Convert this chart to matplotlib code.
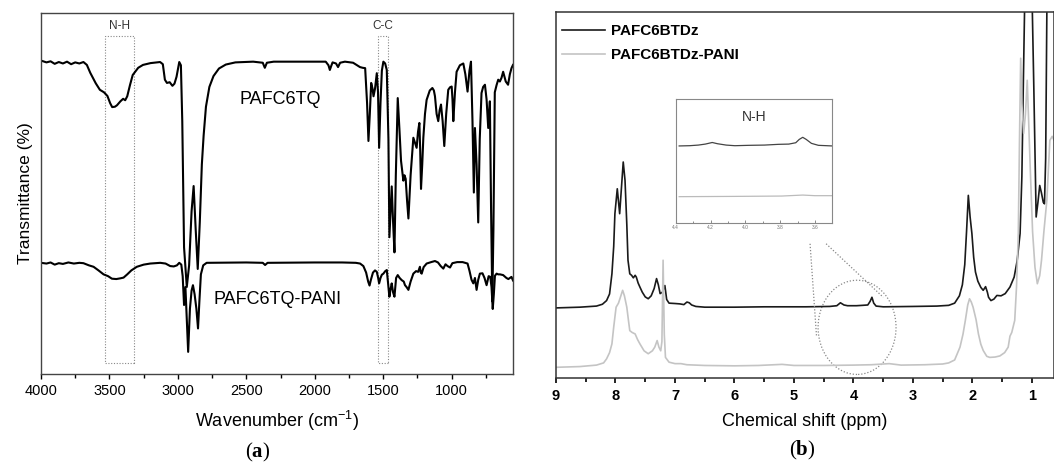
import matplotlib
matplotlib.use("Agg")
import matplotlib.pyplot as plt
from matplotlib.patches import Rectangle, Ellipse
from matplotlib.ticker import MultipleLocator

plt.rcParams['font.family'] = ['Liberation Sans', 'DejaVu Sans']
plt.rcParams['mathtext.fontset'] = 'custom'
plt.rcParams['mathtext.rm'] = 'Liberation Sans'
plt.rcParams['mathtext.it'] = 'Liberation Sans:italic'
plt.rcParams['mathtext.bf'] = 'Liberation Serif:bold'

# ---- (a) FTIR, wavenumber (cm-1) vs transmittance (arb.) ----
tq_wn = [4000, 3960, 3930, 3900, 3870, 3840, 3810, 3780, 3750, 3720, 3690, 3665, 3640, 3600,
         3570, 3540, 3515, 3495, 3480, 3460, 3445, 3420, 3400, 3385, 3370, 3350, 3330, 3290,
         3255, 3200, 3130, 3110, 3095, 3080, 3060, 3040, 3025, 3010, 2990, 2978, 2968, 2955,
         2935, 2918, 2900, 2885, 2870, 2855, 2840, 2825, 2812, 2795, 2770, 2740, 2700, 2650,
         2580, 2450, 2380, 2365, 2350, 2300, 2100, 1920, 1900, 1890, 1880, 1870, 1845, 1830,
         1815, 1780, 1720, 1690, 1670, 1650, 1632, 1618, 1608, 1598, 1588, 1578, 1571, 1560,
         1547, 1538, 1530, 1520, 1510, 1499, 1486, 1474, 1462, 1455, 1446, 1438, 1428, 1418,
         1408, 1394, 1382, 1370, 1353, 1345, 1336, 1326, 1316, 1300, 1280, 1268, 1256, 1246,
         1236, 1230, 1224, 1215, 1207, 1195, 1183, 1160, 1141, 1130, 1122, 1110, 1098, 1088,
         1078, 1066, 1054, 1040, 1025, 1012, 1000, 994, 988, 976, 964, 940, 915, 900,
         884, 870, 859, 848, 838, 834, 830, 818, 806, 795, 782, 770, 757, 745,
         733, 727, 721, 712, 703, 695, 685, 672, 660, 648, 636, 624, 605, 588,
         575, 563, 552]
tq_T = [86.8, 86.3, 86.6, 85.9, 86.4, 86.0, 86.5, 85.8, 86.3, 86.0, 86.4, 85.6, 83.4, 80.5,
        78.7, 78.0, 77.0, 75.0, 73.9, 74.0, 74.4, 75.5, 76.2, 75.8, 76.9, 80.0, 82.8, 84.8,
        85.6, 86.1, 86.4, 85.8, 81.5, 80.6, 80.8, 79.8, 80.4, 82.3, 86.4, 85.5, 70.0, 35.0,
        24.0, 30.0, 45.0, 52.0, 40.0, 29.0, 42.0, 58.0, 66.0, 74.0, 79.5, 82.5, 84.6, 85.7,
        86.3, 86.5, 86.2, 84.8, 86.2, 86.5, 86.5, 86.5, 85.5, 84.2, 85.3, 86.3, 86.0, 85.0,
        86.2, 86.5, 86.2, 85.5, 85.0, 84.8, 84.7, 75.0, 64.5, 72.0, 80.6, 79.0, 76.9, 79.0,
        83.3, 78.0, 62.6, 75.0, 84.0, 86.5, 86.0, 84.2, 65.0, 37.8, 45.0, 51.9, 42.0, 33.6,
        55.0, 76.4, 68.0, 59.0, 53.5, 55.0, 54.0, 48.0, 43.0, 55.0, 65.4, 64.0, 62.6, 67.0,
        69.5, 62.0, 51.2, 58.0, 65.4, 72.0, 75.9, 78.5, 79.2, 78.5, 76.9, 72.0, 70.0, 73.0,
        74.6, 70.0, 63.1, 72.0, 78.7, 79.4, 79.6, 76.0, 70.0, 78.0, 83.7, 85.5, 86.0, 83.0,
        78.2, 84.0, 86.5, 70.0, 50.2, 60.0, 68.1, 58.0, 41.9, 65.0, 77.8, 79.5, 80.1, 76.0,
        68.1, 72.0, 75.5, 45.0, 20.0, 40.0, 78.0, 80.0, 81.5, 81.0, 82.0, 83.7, 81.0, 80.1,
        83.0, 84.7, 85.6]

pani_wn = [4000, 3960, 3930, 3900, 3870, 3840, 3800, 3760, 3720, 3690, 3650, 3616, 3580, 3543,
           3510, 3482, 3450, 3420, 3397, 3370, 3340, 3300, 3250, 3202, 3129, 3090, 3056, 3030,
           3007, 2990, 2975, 2965, 2955, 2945, 2935, 2925, 2912, 2900, 2890, 2878, 2865, 2853,
           2843, 2832, 2815, 2790, 2500, 2380, 2363, 2345, 2000, 1800, 1700, 1669, 1645, 1625,
           1610, 1600, 1590, 1575, 1560, 1547, 1537, 1530, 1520, 1510, 1499, 1485, 1474, 1463,
           1455, 1446, 1438, 1428, 1418, 1406, 1394, 1380, 1365, 1350, 1341, 1330, 1316, 1300,
           1280, 1260, 1245, 1232, 1226, 1219, 1205, 1183, 1150, 1122, 1100, 1080, 1061, 1045,
           1030, 1012, 995, 960, 920, 884, 870, 855, 842, 830, 818, 806, 794, 775,
           760, 745, 730, 718, 709, 700, 692, 684, 672, 660, 647, 624, 600, 586,
           563, 552]
pani_T = [30.7, 30.5, 30.8, 30.2, 30.6, 30.4, 30.8, 30.5, 30.7, 30.6, 30.0, 29.6, 28.6, 27.5,
          27.0, 26.3, 26.2, 26.4, 26.6, 27.5, 28.6, 29.6, 30.2, 30.5, 30.7, 30.5, 29.8, 29.7,
          30.0, 30.7, 30.2, 27.0, 19.0, 24.0, 15.0, 6.0, 18.0, 23.0, 24.5, 22.0, 18.0, 12.5,
          20.0, 27.5, 30.0, 30.7, 30.8, 30.7, 30.1, 30.7, 30.8, 30.8, 30.7, 30.5, 29.8, 28.0,
          25.5, 24.4, 26.0, 28.0, 28.6, 28.2, 26.5, 25.0, 26.5, 27.4, 27.7, 28.4, 28.7, 24.5,
          21.3, 23.5, 25.0, 22.5, 21.3, 26.5, 27.3, 26.5, 25.9, 25.5, 24.5, 24.0, 23.2, 25.5,
          27.7, 28.4, 28.2, 29.6, 28.0, 27.7, 29.5, 30.5, 30.9, 31.2, 30.8, 29.8, 29.1, 30.3,
          29.8, 29.4, 30.6, 30.9, 30.9, 30.5, 28.5, 26.0, 25.0, 26.5, 23.2, 26.0, 27.7, 27.8,
          26.5, 24.5, 27.0, 26.8, 24.0, 17.9, 22.0, 27.1, 27.7, 27.5, 27.5, 27.3, 26.5, 26.2,
          26.8, 25.8]

nh_band = (3530, 3324)
cc_band = (1535, 1467)

# ---- (b) 1H NMR, chemical shift (ppm) ----
btdz_ppm = [9.00, 8.60, 8.32, 8.22, 8.15, 8.10, 8.06, 8.03, 8.01, 7.97, 7.93, 7.90, 7.87, 7.84,
            7.81, 7.79, 7.76, 7.73, 7.70, 7.67, 7.65, 7.62, 7.59, 7.55, 7.50, 7.45, 7.40, 7.35,
            7.31, 7.28, 7.25, 7.21, 7.17, 7.14, 7.10, 7.00, 6.92, 6.85, 6.80, 6.76, 6.72, 6.65,
            6.50, 6.00, 5.50, 5.20, 4.80, 4.40, 4.28, 4.22, 4.16, 4.10, 3.95, 3.85, 3.76, 3.72,
            3.69, 3.66, 3.62, 3.50, 3.00, 2.60, 2.40, 2.30, 2.22, 2.17, 2.13, 2.10, 2.07, 2.04,
            2.01, 1.98, 1.95, 1.91, 1.86, 1.82, 1.78, 1.75, 1.73, 1.69, 1.64, 1.59, 1.52, 1.45,
            1.37, 1.30, 1.25, 1.20, 1.17, 1.15, 1.12, 1.06, 1.00, 0.97, 0.95, 0.93, 0.90, 0.87,
            0.84, 0.81, 0.79, 0.77, 0.75, 0.72, 0.63]
btdz_I = [19.2, 19.4, 19.7, 20.2, 21.2, 23.0, 28.5, 36.0, 44.9, 51.7, 44.9, 52.0, 59.0, 54.0,
          42.0, 32.2, 28.5, 28.1, 27.4, 28.1, 27.6, 26.0, 24.9, 23.5, 22.2, 21.7, 22.5, 24.5,
          27.2, 25.5, 23.1, 23.5, 25.3, 21.5, 20.5, 20.4, 20.3, 20.1, 20.8, 20.6, 20.0, 19.6,
          19.4, 19.4, 19.5, 19.5, 19.5, 19.6, 19.8, 20.6, 20.0, 19.8, 19.8, 19.9, 20.0, 21.0,
          22.1, 20.5, 19.7, 19.5, 19.6, 19.7, 19.9, 20.5, 22.5, 25.5, 31.0, 40.0, 49.9, 44.0,
          39.5, 33.0, 29.0, 26.5, 24.8, 24.0, 25.0, 23.5, 22.1, 21.2, 21.6, 22.6, 22.5, 23.1,
          24.9, 27.6, 32.0, 39.5, 55.0, 75.9, 105.0, 150.0, 105.0, 80.0, 62.0, 44.0, 48.0, 52.6,
          50.5, 48.0, 47.6, 60.0, 100.0, 150.0, 150.0]

pani_ppm = [9.00, 8.60, 8.32, 8.20, 8.15, 8.10, 8.06, 8.03, 7.99, 7.95, 7.91, 7.88, 7.85, 7.81,
            7.78, 7.76, 7.72, 7.67, 7.63, 7.59, 7.52, 7.45, 7.38, 7.34, 7.30, 7.27, 7.24, 7.22,
            7.20, 7.18, 7.16, 7.10, 7.00, 6.90, 6.80, 6.50, 6.00, 5.60, 5.20, 5.00, 4.50, 4.00,
            3.70, 3.60, 3.40, 3.20, 2.80, 2.50, 2.40, 2.30, 2.21, 2.16, 2.12, 2.08, 2.05, 2.02,
            1.99, 1.94, 1.90, 1.86, 1.82, 1.76, 1.71, 1.62, 1.54, 1.46, 1.40, 1.37, 1.34, 1.29,
            1.26, 1.23, 1.21, 1.19, 1.17, 1.14, 1.11, 1.08, 1.06, 1.03, 0.99, 0.95, 0.91, 0.87,
            0.84, 0.80, 0.75, 0.70, 0.66, 0.63]
pani_I = [3.0, 3.2, 3.6, 4.2, 5.3, 7.0, 9.4, 14.0, 19.4, 20.5, 22.5, 24.0, 22.5, 19.4,
          15.5, 13.0, 12.5, 12.1, 10.6, 9.4, 7.5, 6.7, 7.5, 8.5, 10.3, 8.5, 7.5, 10.0,
          32.2, 12.0, 5.7, 4.4, 4.0, 4.0, 3.7, 3.5, 3.4, 3.5, 3.8, 3.5, 3.5, 3.6,
          3.7, 3.8, 4.0, 3.6, 3.7, 3.9, 4.2, 5.0, 8.5, 12.0, 15.8, 20.0, 21.7, 20.8,
          19.4, 16.0, 12.1, 9.3, 7.6, 6.0, 5.7, 5.8, 6.1, 7.0, 8.5, 11.5, 12.5, 15.8,
          25.0, 39.5, 65.0, 87.3, 75.0, 66.8, 72.0, 81.3, 72.0, 57.6, 40.0, 30.3, 25.8, 28.0,
          32.2, 40.0, 48.6, 64.9, 66.0, 65.0]

# inset: N-H region (4.4 - 3.5 ppm)
inset_ppm_btdz = [4.38, 4.32, 4.27, 4.23, 4.19, 4.16, 4.11, 4.06, 3.98, 3.89, 3.81, 3.75, 3.71,
                  3.69, 3.67, 3.65, 3.62, 3.58, 3.50]
inset_I_btdz = [62.2, 62.4, 62.9, 63.7, 65.0, 64.0, 62.9, 62.4, 62.7, 62.9, 63.5, 63.7, 64.8,
                67.5, 69.2, 67.5, 64.3, 62.7, 62.2]
inset_ppm_pani = [4.38, 4.08, 3.79, 3.67, 3.60, 3.50]
inset_I_pani = [21.1, 21.3, 21.6, 22.4, 21.9, 21.9]

W, H = 1054, 466
fig = plt.figure(figsize=(W / 100, H / 100), dpi=100)

# ---------------- panel a ----------------
axa = fig.add_axes([41 / W, 1 - 373.5 / H, 472 / W, 360.5 / H])
axa.plot(tq_wn, tq_T, color='black', lw=1.5)
axa.plot(pani_wn, pani_T, color='black', lw=1.5)
axa.set_xlim(4000, 552)
axa.set_ylim(0, 100)
axa.set_yticks([])
axa.xaxis.set_major_locator(MultipleLocator(500))
axa.xaxis.set_minor_locator(MultipleLocator(250))
axa.tick_params(axis='x', which='major', direction='out', length=3.6, width=1.0,
                labelsize=10.5, pad=4)
axa.tick_params(axis='x', which='minor', direction='out', length=3.0, width=1.0)
for s in axa.spines.values():
    s.set_color('#444444')
    s.set_linewidth(1.0)
axa.set_xlabel('Wavenumber (cm$^{-1}$)', fontsize=13, labelpad=8)
axa.set_ylabel('Transmittance (%)', fontsize=12.5, labelpad=6)

for (hi, lo), lab in [(nh_band, 'N-H'), (cc_band, 'C-C')]:
    axa.add_patch(Rectangle((lo, 2.8), hi - lo, 90.8, fill=False, ls=(0, (1, 1.5)),
                            lw=0.8, edgecolor='#888888'))
    axa.text((hi + lo) / 2, 96.4, lab, ha='center', va='center', fontsize=8.5, color='#333333')

axa.text(2255, 75.9, 'PAFC6TQ', ha='center', va='center', fontsize=13)
axa.text(2270, 20.5, 'PAFC6TQ-PANI', ha='center', va='center', fontsize=13)

fig.text(258 / W, 1 - 452 / H, r'($\mathbf{a}$)', ha='center', va='center',
         fontsize=15, family='Liberation Serif')

# ---------------- panel b ----------------
axb = fig.add_axes([556 / W, 1 - 378.3 / H, 498 / W, 366.6 / H])
lb, = axb.plot(btdz_ppm, btdz_I, color='#1a1a1a', lw=1.2, label='PAFC6BTDz')
lg, = axb.plot(pani_ppm, pani_I, color='#c4c4c4', lw=1.2, label='PAFC6BTDz-PANI')
axb.set_xlim(9, 0.63)
axb.set_ylim(0, 100)
axb.set_yticks([])
axb.xaxis.set_major_locator(MultipleLocator(1))
axb.xaxis.set_minor_locator(MultipleLocator(0.5))
axb.tick_params(axis='x', which='major', direction='out', length=3.6, width=1.2,
                labelsize=10.5, pad=4)
axb.tick_params(axis='x', which='minor', direction='out', length=3.0, width=1.2)
for lab in axb.get_xticklabels():
    lab.set_fontweight('bold')
for s in axb.spines.values():
    s.set_color('#333333')
    s.set_linewidth(1.1)
axb.set_xlabel('Chemical shift (ppm)', fontsize=13, labelpad=7)
axb.legend(handles=[lb, lg], loc='upper left', bbox_to_anchor=(0.0, 0.982), frameon=False,
           prop={'weight': 'bold', 'size': 11}, handlelength=2.8, handletextpad=0.4,
           borderaxespad=0.0, borderpad=0.4, labelspacing=0.62)

axb.add_patch(Ellipse((3.94, 13.9), 1.31, 25.7, fill=False, ls=(0, (1, 1.5)), lw=0.9,
                      edgecolor='#888888'))
axb.plot([4.73, 4.62], [36.7, 11.2], ls=(0, (1, 1.5)), lw=0.9, color='#888888')
axb.plot([4.46, 3.50], [36.7, 22.1], ls=(0, (1, 1.5)), lw=0.9, color='#888888')

fig.text(802 / W, 1 - 450 / H, r'($\mathbf{b}$)', ha='center', va='center',
         fontsize=15, family='Liberation Serif')

# ---------------- inset ----------------
axi = fig.add_axes([675.7 / W, 1 - 222.7 / H, 156.6 / W, 123.4 / H])
axi.plot(inset_ppm_btdz, inset_I_btdz, color='#444444', lw=0.9)
axi.plot(inset_ppm_pani, inset_I_pani, color='#bbbbbb', lw=0.9)
axi.set_xlim(4.4, 3.5)
axi.set_ylim(0, 100)
axi.set_yticks([])
axi.xaxis.set_major_locator(MultipleLocator(0.2))
axi.xaxis.set_minor_locator(MultipleLocator(0.1))
axi.tick_params(axis='x', which='major', direction='in', length=2.5, labelsize=3.5,
                colors='#777777', pad=2, width=0.6)
axi.tick_params(axis='x', which='minor', direction='in', length=1.5, width=0.6, colors='#777777')
for s in axi.spines.values():
    s.set_color('#888888')
    s.set_linewidth(0.8)
axi.text(0.5, 0.86, 'N-H', transform=axi.transAxes, ha='center', va='center',
         fontsize=10, color='#333333')

fig.savefig('out.png', dpi=100)
